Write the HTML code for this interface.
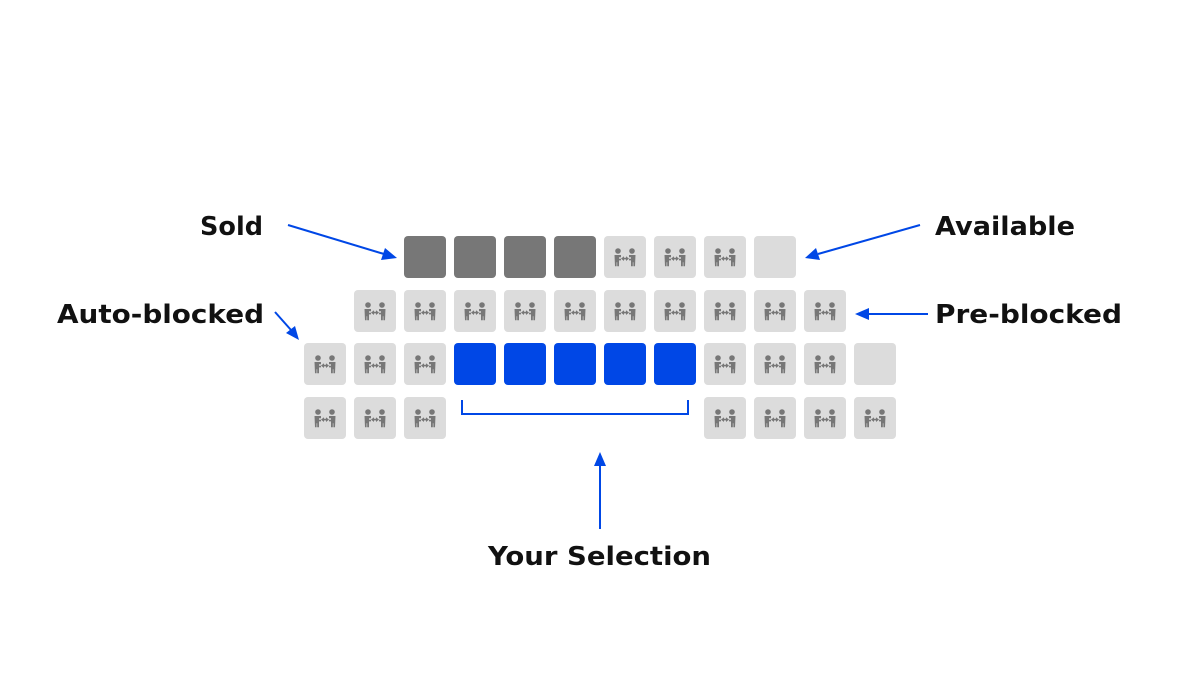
<!DOCTYPE html>
<html><head><meta charset="utf-8"><style>
html,body{margin:0;padding:0;background:#fff;}
svg{display:block;}
text{font-family:"DejaVu Sans","Liberation Sans",sans-serif;font-weight:bold;font-size:26px;fill:#111;}
</style></head><body>
<svg width="1200" height="675" viewBox="0 0 1200 675" xmlns="http://www.w3.org/2000/svg">
<defs>
<g id="ic">
<rect width="42" height="42" rx="4" fill="#dcdcdc"/>
<g fill="#777">
<circle cx="14" cy="15" r="2.8"/>
<circle cx="28" cy="15" r="2.8"/>
<path d="M10.5 19 h6.5 v2.2 h-2 v1.6 h2 v1.6 h-2 v5.8 h-1.8 v-4 h-0.6 v4 h-1.6 z"/>
<path d="M31.5 19 h-6.5 v2.2 h2 v1.6 h-2 v1.6 h2 v5.8 h1.8 v-4 h0.6 v4 h1.6 z"/>
<path d="M17 22.6 l3 -2.4 v1.6 h2 v-1.6 l3 2.4 l-3 2.4 v-1.6 h-2 v1.6 z"/>
</g>
</g>
<rect id="pl" width="42" height="42" rx="4" fill="#dcdcdc"/>
<rect id="dk" width="42" height="42" rx="4" fill="#777"/>
<rect id="bl" width="42" height="42" rx="4" fill="#0047e6"/>
</defs>
<use href="#dk" x="404" y="236"/><use href="#dk" x="454" y="236"/><use href="#dk" x="504" y="236"/><use href="#dk" x="554" y="236"/>
<use href="#ic" x="604" y="236"/><use href="#ic" x="654" y="236"/><use href="#ic" x="704" y="236"/><use href="#pl" x="754" y="236"/>
<use href="#ic" x="354" y="290"/><use href="#ic" x="404" y="290"/><use href="#ic" x="454" y="290"/><use href="#ic" x="504" y="290"/><use href="#ic" x="554" y="290"/>
<use href="#ic" x="604" y="290"/><use href="#ic" x="654" y="290"/><use href="#ic" x="704" y="290"/><use href="#ic" x="754" y="290"/><use href="#ic" x="804" y="290"/>
<use href="#ic" x="304" y="343"/><use href="#ic" x="354" y="343"/><use href="#ic" x="404" y="343"/>
<use href="#bl" x="454" y="343"/><use href="#bl" x="504" y="343"/><use href="#bl" x="554" y="343"/><use href="#bl" x="604" y="343"/><use href="#bl" x="654" y="343"/>
<use href="#ic" x="704" y="343"/><use href="#ic" x="754" y="343"/><use href="#ic" x="804" y="343"/><use href="#pl" x="854" y="343"/>
<use href="#ic" x="304" y="397"/><use href="#ic" x="354" y="397"/><use href="#ic" x="404" y="397"/>
<use href="#ic" x="704" y="397"/><use href="#ic" x="754" y="397"/><use href="#ic" x="804" y="397"/><use href="#ic" x="854" y="397"/>
<g stroke="#0047e6" stroke-width="2" fill="none">
<line x1="288" y1="225" x2="384" y2="254"/>
<line x1="920" y1="225" x2="818" y2="254"/>
<line x1="928" y1="314" x2="868" y2="314"/>
<line x1="275" y1="312" x2="291" y2="330"/>
<line x1="600" y1="529" x2="600" y2="464"/>
<polyline points="462,400 462,414 688,414 688,400"/>
</g>
<g fill="#0047e6">
<polygon points="397,258 381,260 385,248"/>
<polygon points="805,258 816,248 820,260"/>
<polygon points="855,314 869,308 869,320"/>
<polygon points="299,340 286,333 295,326"/>
<polygon points="600,452 594,466 606,466"/>
</g>
<text x="200" y="235" textLength="63" lengthAdjust="spacingAndGlyphs">Sold</text>
<text x="935" y="235" textLength="140" lengthAdjust="spacingAndGlyphs">Available</text>
<text x="935" y="323" textLength="187" lengthAdjust="spacingAndGlyphs">Pre-blocked</text>
<text x="57" y="323" textLength="207" lengthAdjust="spacingAndGlyphs">Auto-blocked</text>
<text x="488" y="565" textLength="223" lengthAdjust="spacingAndGlyphs">Your Selection</text>
</svg>
</body></html>
